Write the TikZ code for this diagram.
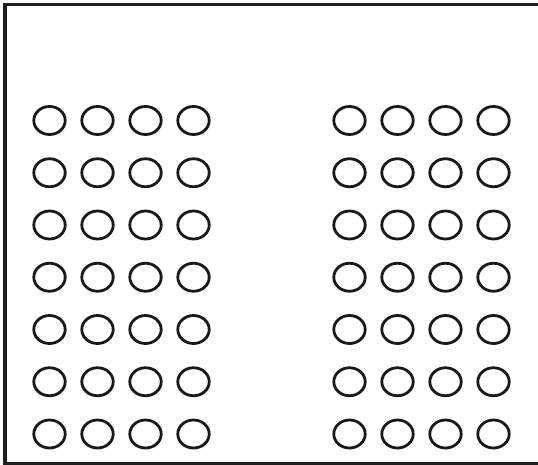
\documentclass[tikz,border=0pt]{standalone}
\usetikzlibrary{shapes.geometric}
\begin{document}
\begin{tikzpicture}[x=1pt,y=-1pt,
  frame/.style={draw=black!88,line width=3.4pt},
  pin/.style={draw=black!90,ellipse,line width=2.8pt,inner sep=0pt,minimum width=31.4pt,minimum height=28pt}]
\useasboundingbox (0,0) rectangle (538,465);
\draw[frame] (5,4.5) rectangle (541,463.5);
\foreach \r in {0,...,6}{
  \foreach \c in {0,...,3}{
    \node[pin] (L\r\c) at ({49.5+48*\c},{120.5+52.25*\r}) {};
    \node[pin] (R\r\c) at ({349.5+48*\c},{120.5+52.25*\r}) {};
  }
}
\end{tikzpicture}
\end{document}
